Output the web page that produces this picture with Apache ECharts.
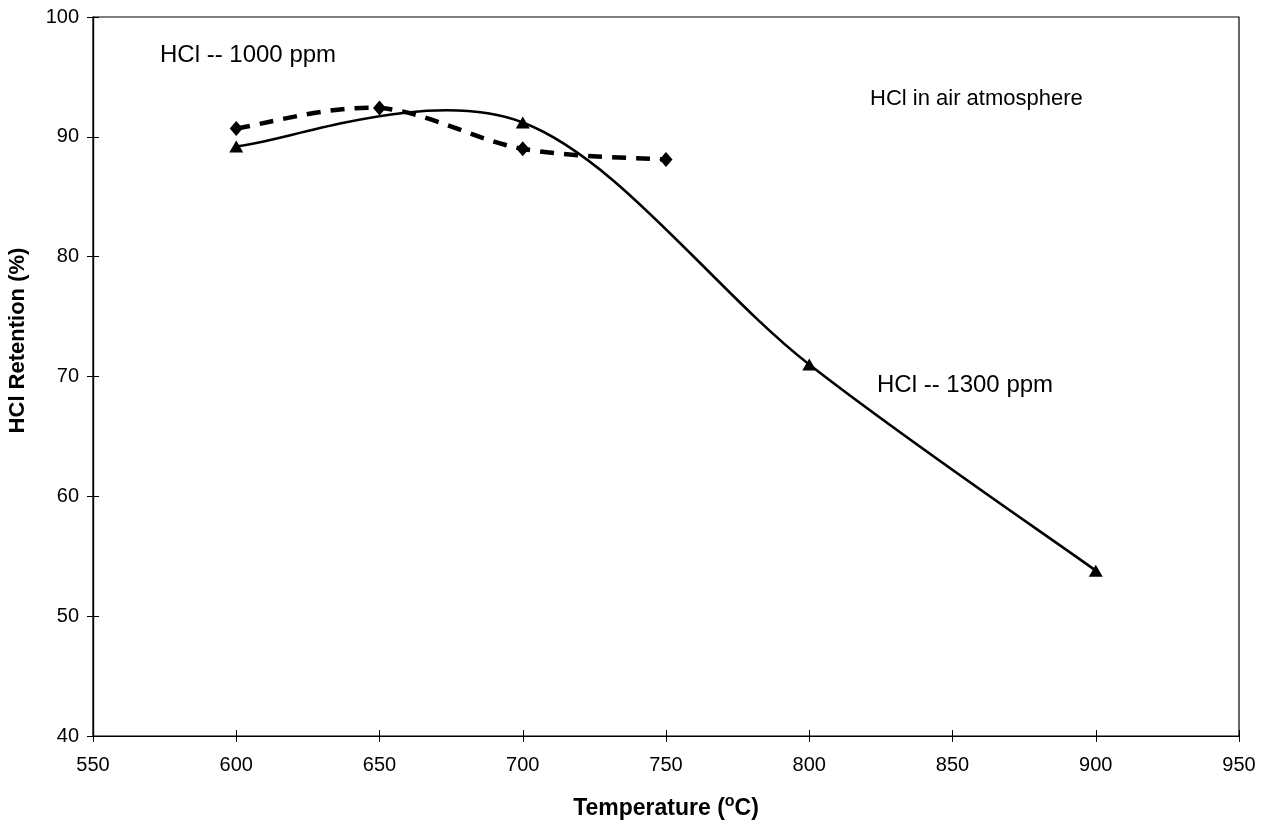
<!DOCTYPE html>
<html>
<head>
<meta charset="utf-8">
<style>html,body{margin:0;padding:0;background:#fff;}#c{width:1270px;height:827px;}</style>
<script src="https://cdn.jsdelivr.net/npm/echarts@6/dist/echarts.min.js"></script>
</head>
<body>
<div id="c"></div>
<script>
const temps1000 = [600, 650, 700, 750];
const retention1000 = [90.7, 92.4, 89.0, 88.1];
const temps1300 = [600, 700, 800, 900];
const retention1300 = [89.2, 91.2, 71.0, 53.8];
const xTicks = [550, 600, 650, 700, 750, 800, 850, 900, 950];
const yTicks = [40, 50, 60, 70, 80, 90, 100];
const labels = {
  s1000: 'HCl -- 1000 ppm',
  s1300: 'HCl -- 1300 ppm',
  note: 'HCl in air atmosphere',
  xTitle: 'Temperature (',
  yTitle: 'HCl Retention (%)'
};

const FONT = 'Liberation Sans, Arial, sans-serif';
const chart = echarts.init(document.getElementById('c'), null, {renderer: 'canvas'});
const pair = (xs, ys) => xs.map((x, i) => [x, ys[i]]);

// Smoothed (Excel-style Catmull-Rom Bezier) path through data points, mapped with the chart's own scales.
function smoothRenderer(xs, ys, style) {
  return function (params, api) {
    if (params.dataIndex !== 0) return null;
    const p = xs.map((x, i) => api.coord([x, ys[i]]));
    let d = 'M' + p[0][0] + ' ' + p[0][1];
    for (let i = 0; i < p.length - 1; i++) {
      const a = p[Math.max(i - 1, 0)], b = p[i], c = p[i + 1], e = p[Math.min(i + 2, p.length - 1)];
      const c1 = [b[0] + (c[0] - a[0]) / 6, b[1] + (c[1] - a[1]) / 6];
      const c2 = [c[0] - (e[0] - b[0]) / 6, c[1] - (e[1] - b[1]) / 6];
      d += ' C' + c1[0] + ' ' + c1[1] + ' ' + c2[0] + ' ' + c2[1] + ' ' + c[0] + ' ' + c[1];
    }
    return {type: 'path', shape: {pathData: d}, style: Object.assign({fill: null}, style)};
  };
}

const baseX = {
  type: 'value', min: xTicks[0], max: xTicks[xTicks.length - 1], interval: 50,
  position: 'bottom',
  splitLine: {show: false},
  axisLine: {show: true, onZero: false, lineStyle: {color: '#000', width: 1.2}}
};
const baseY = {
  type: 'value', min: yTicks[0], max: yTicks[yTicks.length - 1], interval: 10,
  position: 'left',
  splitLine: {show: false},
  axisLine: {show: true, onZero: false, lineStyle: {color: '#000', width: 1.2}}
};

chart.setOption({
  animation: false,
  backgroundColor: '#fff',
  grid: {left: 93, right: 31, top: 17, bottom: 91, show: true, borderColor: '#000', borderWidth: 1.2,
         backgroundColor: 'transparent', outerBoundsMode: 'none', containLabel: false},
  xAxis: [
    Object.assign({}, baseX, {
      axisTick: {show: true, inside: false, length: 6, lineStyle: {color: '#000'}},
      axisLabel: {color: '#000', fontSize: 20, fontFamily: FONT, margin: 19},
      name: '{t|' + labels.xTitle + '}{s|o}{t|C)}',
      nameLocation: 'middle', nameGap: 58,
      nameTextStyle: {rich: {
        t: {fontSize: 23, fontWeight: 'bold', fontFamily: FONT, color: '#000', verticalAlign: 'bottom', lineHeight: 26},
        s: {fontSize: 16, fontWeight: 'bold', fontFamily: FONT, color: '#000', verticalAlign: 'top', lineHeight: 26, padding: [0, 0, 10, 0]}
      }}
    }),
    Object.assign({}, baseX, {
      axisTick: {show: true, inside: true, length: 6, lineStyle: {color: '#000'}},
      axisLabel: {show: false}
    })
  ],
  yAxis: [
    Object.assign({}, baseY, {
      axisTick: {show: true, inside: false, length: 6, lineStyle: {color: '#000'}},
      axisLabel: {color: '#000', fontSize: 20, fontFamily: FONT, margin: 14},
      name: labels.yTitle, nameLocation: 'middle', nameGap: 64, nameRotate: 90,
      nameTextStyle: {fontSize: 22, fontWeight: 'bold', fontFamily: FONT, color: '#000', padding: [0, 0, 0, 72]}
    }),
    Object.assign({}, baseY, {
      axisTick: {show: true, inside: true, length: 6, lineStyle: {color: '#000'}},
      axisLabel: {show: false}
    })
  ],
  series: [
    {
      name: labels.s1000 + ' line', type: 'custom', data: pair(temps1000, retention1000),
      renderItem: smoothRenderer(temps1000, retention1000, {stroke: '#000', lineWidth: 4.5, lineDash: [14, 10]}),
      z: 2
    },
    {
      name: labels.s1300 + ' line', type: 'custom', data: pair(temps1300, retention1300),
      renderItem: smoothRenderer(temps1300, retention1300, {stroke: '#000', lineWidth: 2.6}),
      z: 2
    },
    {
      name: labels.s1000, type: 'scatter', data: pair(temps1000, retention1000),
      symbol: 'diamond', symbolSize: [13, 15], itemStyle: {color: '#000', opacity: 1}, z: 3
    },
    {
      name: labels.s1300, type: 'scatter', data: pair(temps1300, retention1300),
      symbol: 'triangle', symbolSize: [14, 12], itemStyle: {color: '#000', opacity: 1}, z: 3
    }
  ],
  graphic: [
    {type: 'text', left: 160, top: 43, style: {text: labels.s1000, font: '24px ' + FONT, fill: '#000'}},
    {type: 'text', left: 870, top: 88, style: {text: labels.note, font: '22px ' + FONT, fill: '#000'}},
    {type: 'text', left: 877, top: 373, style: {text: labels.s1300, font: '24px ' + FONT, fill: '#000'}}
  ]
});
</script>
</body>
</html>
